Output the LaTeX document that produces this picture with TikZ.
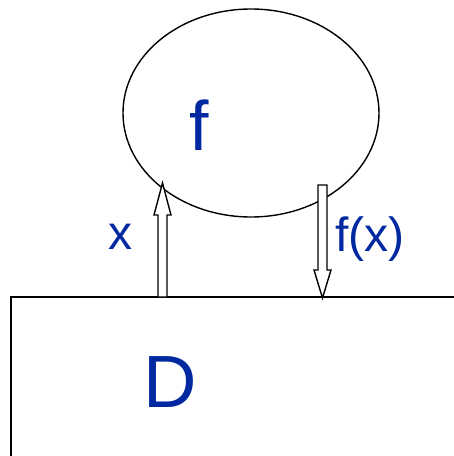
\documentclass[tikz,border=0pt]{standalone}
\usepackage{fontspec}
\setmainfont{Liberation Sans}
\usetikzlibrary{shapes.geometric}
\definecolor{lblblue}{HTML}{0028A0}
\begin{document}
\begin{tikzpicture}[x=1pt,y=-1pt,
  lbl/.style={text=lblblue,inner sep=0pt,anchor=center},
  fatarrow/.style={draw=black,line width=1.4pt,fill=white,line join=miter}]
\useasboundingbox (0,0) rectangle (454,456);
\node[ellipse,draw,line width=1.4pt,minimum width=256pt,minimum height=208pt,inner sep=0pt] (f) at (251,113) {};
\draw[line width=1.4pt] (454,297) -- (11,297) -- (11,457);
\coordinate (d) at (11,297);
\node[lbl,font=\fontsize{70}{70}\selectfont] (fl) at (199,125) {f};
\node[lbl,font=\fontsize{74}{74}\selectfont] (Dl) at (170,382) {D};
\node[lbl,font=\fontsize{48}{48}\selectfont] (xl) at (120,237) {x};
\node[lbl,font=\fontsize{48}{48}\selectfont] (fxl) at (370,239) {f(x)};
% up arrow (x)
\draw[fatarrow] (158,297) -- (158,215) -- (154,215) -- (162.5,183) -- (171,215) -- (167,215) -- (167,297) -- cycle;
% down arrow (f(x))
\draw[fatarrow] (318,185) -- (318,270) -- (314,270) -- (322.5,298) -- (331,270) -- (327,270) -- (327,185) -- cycle;
\end{tikzpicture}
\end{document}
